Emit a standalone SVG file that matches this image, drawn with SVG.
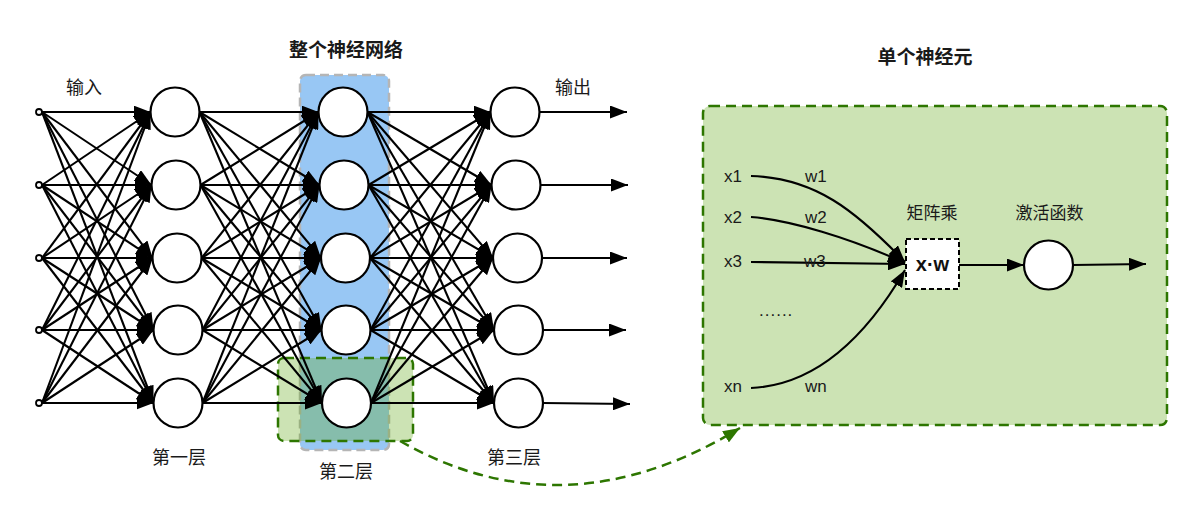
<svg xmlns="http://www.w3.org/2000/svg" width="1182" height="511" viewBox="0 0 1182 511">
<style>
.cn{font-family:"Noto Sans CJK SC","Noto Sans",sans-serif;fill:#1a1a1a;text-anchor:middle}
.t{font-size:19px;font-weight:bold}
.l{font-size:18px}
.r{font-size:17px}
.lat{font-family:"Liberation Sans",Arial,sans-serif;font-size:17px;fill:#1a1a1a}
.e{fill:none;stroke:#000;stroke-width:2.1;marker-end:url(#a)}
.n{fill:#fff;stroke:#000;stroke-width:2.2}
.g{fill:#60a917;fill-opacity:0.32;stroke:#2d7600;stroke-width:2.5;stroke-dasharray:10 6}
</style>
<defs>
<marker id="a" markerUnits="userSpaceOnUse" markerWidth="17" markerHeight="13" refX="17" refY="6.5" orient="auto"><path d="M0,0L17,6.5L0,13z" fill="#000"/></marker>
<marker id="ga" markerUnits="userSpaceOnUse" markerWidth="17" markerHeight="13" refX="17" refY="6.5" orient="auto"><path d="M0,0L17,6.5L0,13z" fill="#2d7600"/></marker>
</defs>
<rect width="1182" height="511" fill="#fff"/>
<g id="layer2-box"><rect x="300" y="75" width="89" height="375" rx="6" fill="#98c7f4" stroke="#b5b5b5" stroke-width="2.5" stroke-dasharray="9 5"/></g>
<g id="neuron-highlight"><rect class="g" x="278" y="358" width="135" height="83" rx="6"/></g>
<g id="neuron-panel"><rect class="g" x="703" y="106" width="464" height="319" rx="7"/></g>
<g id="labels">
<text class="cn t" x="346" y="57">整个神经网络</text>
<text class="cn t" x="925" y="64">单个神经元</text>
<text class="cn l" x="84" y="94">输入</text>
<text class="cn l" x="573" y="94">输出</text>
<text class="cn l" x="179" y="464">第一层</text>
<text class="cn l" x="346" y="478">第二层</text>
<text class="cn l" x="514" y="464">第三层</text>
</g>
<g id="connectors">
<path class="e" d="M42 112L150.5 112"/><path class="e" d="M42 112L151.5 185"/><path class="e" d="M42 112L152.5 258"/><path class="e" d="M42 112L153.5 330"/><path class="e" d="M42 112L153.5 403"/>
<path class="e" d="M42 185L150.5 112"/><path class="e" d="M42 185L151.5 185"/><path class="e" d="M42 185L152.5 258"/><path class="e" d="M42 185L153.5 330"/><path class="e" d="M42 185L153.5 403"/>
<path class="e" d="M42 258L150.5 112"/><path class="e" d="M42 258L151.5 185"/><path class="e" d="M42 258L152.5 258"/><path class="e" d="M42 258L153.5 330"/><path class="e" d="M42 258L153.5 403"/>
<path class="e" d="M42 330L150.5 112"/><path class="e" d="M42 330L151.5 185"/><path class="e" d="M42 330L152.5 258"/><path class="e" d="M42 330L153.5 330"/><path class="e" d="M42 330L153.5 403"/>
<path class="e" d="M42 403L150.5 112"/><path class="e" d="M42 403L151.5 185"/><path class="e" d="M42 403L152.5 258"/><path class="e" d="M42 403L153.5 330"/><path class="e" d="M42 403L153.5 403"/>

<path class="e" d="M199.5 112L318.5 112"/><path class="e" d="M199.5 112L319.5 185"/><path class="e" d="M199.5 112L321 258"/><path class="e" d="M199.5 112L321.5 330"/><path class="e" d="M199.5 112L322 403"/>
<path class="e" d="M200.5 185L318.5 112"/><path class="e" d="M200.5 185L319.5 185"/><path class="e" d="M200.5 185L321 258"/><path class="e" d="M200.5 185L321.5 330"/><path class="e" d="M200.5 185L322 403"/>
<path class="e" d="M201.5 258L318.5 112"/><path class="e" d="M201.5 258L319.5 185"/><path class="e" d="M201.5 258L321 258"/><path class="e" d="M201.5 258L321.5 330"/><path class="e" d="M201.5 258L322 403"/>
<path class="e" d="M202.5 330L318.5 112"/><path class="e" d="M202.5 330L319.5 185"/><path class="e" d="M202.5 330L321 258"/><path class="e" d="M202.5 330L321.5 330"/><path class="e" d="M202.5 330L322 403"/>
<path class="e" d="M202.5 403L318.5 112"/><path class="e" d="M202.5 403L319.5 185"/><path class="e" d="M202.5 403L321 258"/><path class="e" d="M202.5 403L321.5 330"/><path class="e" d="M202.5 403L322 403"/>

<path class="e" d="M367.5 112L490.5 112"/><path class="e" d="M367.5 112L491.5 185"/><path class="e" d="M367.5 112L493 258"/><path class="e" d="M367.5 112L494 330"/><path class="e" d="M367.5 112L494 403"/>
<path class="e" d="M368.5 185L490.5 112"/><path class="e" d="M368.5 185L491.5 185"/><path class="e" d="M368.5 185L493 258"/><path class="e" d="M368.5 185L494 330"/><path class="e" d="M368.5 185L494 403"/>
<path class="e" d="M370 258L490.5 112"/><path class="e" d="M370 258L491.5 185"/><path class="e" d="M370 258L493 258"/><path class="e" d="M370 258L494 330"/><path class="e" d="M370 258L494 403"/>
<path class="e" d="M370.5 330L490.5 112"/><path class="e" d="M370.5 330L491.5 185"/><path class="e" d="M370.5 330L493 258"/><path class="e" d="M370.5 330L494 330"/><path class="e" d="M370.5 330L494 403"/>
<path class="e" d="M371 403L490.5 112"/><path class="e" d="M371 403L491.5 185"/><path class="e" d="M371 403L493 258"/><path class="e" d="M371 403L494 330"/><path class="e" d="M371 403L494 403"/>

<path class="e" d="M539.5 112L627 112"/><path class="e" d="M540.5 185L628 185"/><path class="e" d="M542 258L627 258"/><path class="e" d="M543 330L626 330"/><path class="e" d="M543 403L630 404"/>

<path class="e" d="M751 176C815 178 855 210 905 262"/>
<path class="e" d="M751 217C790 220 850 238 905 263"/>
<path class="e" d="M751 262L905 264"/>
<path class="e" d="M751 388C820 385 870 330 905 270"/>
<path class="e" d="M959 265L1024 265"/>
<path class="e" d="M1073 265L1146 264"/>
<path d="M400 441Q565 535 740 428" fill="none" stroke="#2d7600" stroke-width="2.5" stroke-dasharray="10 6" marker-end="url(#ga)"/>
</g>
<g id="inputs">
<circle cx="39" cy="112" r="3" fill="#fff" stroke="#000" stroke-width="1.8"/>
<circle cx="39" cy="185" r="3" fill="#fff" stroke="#000" stroke-width="1.8"/>
<circle cx="39" cy="258" r="3" fill="#fff" stroke="#000" stroke-width="1.8"/>
<circle cx="39" cy="330" r="3" fill="#fff" stroke="#000" stroke-width="1.8"/>
<circle cx="39" cy="403" r="3" fill="#fff" stroke="#000" stroke-width="1.8"/>
</g>
<g id="layer1">
<circle class="n" cx="175" cy="112" r="24.5"/>
<circle class="n" cx="176" cy="185" r="24.5"/>
<circle class="n" cx="177" cy="258" r="24.5"/>
<circle class="n" cx="178" cy="330" r="24.5"/>
<circle class="n" cx="178" cy="403" r="24.5"/>
</g>
<g id="layer2">
<circle class="n" cx="343" cy="112" r="24.5"/>
<circle class="n" cx="344" cy="185" r="24.5"/>
<circle class="n" cx="345.5" cy="258" r="24.5"/>
<circle class="n" cx="346" cy="330" r="24.5"/>
<circle class="n" cx="346.5" cy="403" r="24.5"/>
</g>
<g id="layer3">
<circle class="n" cx="515" cy="112" r="24.5"/>
<circle class="n" cx="516" cy="185" r="24.5"/>
<circle class="n" cx="517.5" cy="258" r="24.5"/>
<circle class="n" cx="518.5" cy="330" r="24.5"/>
<circle class="n" cx="518.5" cy="403" r="24.5"/>
</g>
<g id="inputs-labels">
<text class="lat" x="724" y="182">x1</text>
<text class="lat" x="805" y="182">w1</text>
<text class="lat" x="724" y="223">x2</text>
<text class="lat" x="805" y="223">w2</text>
<text class="lat" x="724" y="267">x3</text>
<text class="lat" x="804" y="267">w3</text>
<text class="lat" x="759" y="316" letter-spacing="1">......</text>
<text class="lat" x="724" y="392">xn</text>
<text class="lat" x="805" y="392">wn</text>
</g>
<g id="matmul">
<rect x="906" y="239" width="53" height="50" fill="#fff" stroke="#000" stroke-width="2" stroke-dasharray="5 3"/>
<text x="932.5" y="271" font-family="Liberation Sans,Arial,sans-serif" font-size="20" font-weight="bold" text-anchor="middle" fill="#111">x·w</text>
<text class="cn r" x="932" y="219">矩阵乘</text>
</g>
<g id="activation">
<circle class="n" cx="1048.5" cy="265" r="24.5"/>
<text class="cn r" x="1049.5" y="219">激活函数</text>
</g>
</svg>
